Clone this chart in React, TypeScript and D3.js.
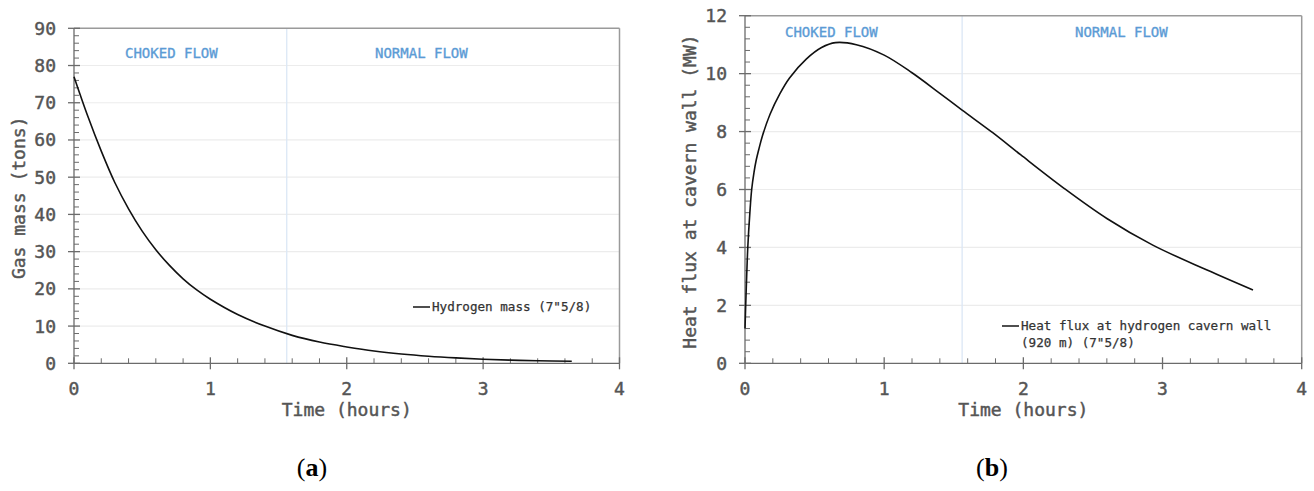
import React from "react";
import * as d3 from "d3";

// ---------- data ----------
const massTime = [0, 0.1, 0.2, 0.3, 0.4, 0.5, 0.6, 0.7, 0.8, 0.9, 1.0, 1.2, 1.4, 1.6, 1.8, 2.0, 2.2, 2.4, 2.6, 2.8, 3.0, 3.2, 3.4, 3.65];
const massValues = [77, 66.5, 57, 48.5, 41.5, 35.5, 30.5, 26.3, 22.7, 19.7, 17.2, 13.1, 10.0, 7.5, 5.7, 4.4, 3.3, 2.5, 1.9, 1.45, 1.1, 0.85, 0.7, 0.55];

const fluxTime = [0, 0.005, 0.012, 0.02, 0.035, 0.048, 0.065, 0.08, 0.1, 0.125, 0.18, 0.25, 0.32, 0.44, 0.55, 0.65, 0.8, 1.0, 1.2, 1.4, 1.56, 1.78, 1.98, 2.29, 2.6, 2.93, 3.32, 3.65];
const fluxValues = [1.2, 2.0, 3.0, 4.0, 5.2, 6.0, 6.6, 7.0, 7.4, 7.85, 8.6, 9.3, 9.85, 10.5, 10.9, 11.07, 11.0, 10.64, 10.03, 9.32, 8.74, 7.96, 7.2, 6.05, 5.0, 4.08, 3.22, 2.53];

const xTicks = [0, 1, 2, 3, 4];
const massTicks = [0, 10, 20, 30, 40, 50, 60, 70, 80, 90];
const fluxTicks = [0, 2, 4, 6, 8, 10, 12];
const regimeSwitch = 1.56;

const mono = "'DejaVu Sans Mono', 'Liberation Mono', monospace";

type PanelProps = {
  left: number; right: number; top: number; bottom: number;
  yMax: number; yTicks: number[]; yMinorStep: number;
  xs: number[]; ys: number[];
  yLabel: string; yLabelX: number;
  legendLines: string[]; legendX: number; legendY: number;
  chokedX: number; normalX: number; flowY: number;
  caption: string; captionX: number;
};

function Panel(p: PanelProps) {
  const x = d3.scaleLinear().domain([0, 4]).range([p.left, p.right]);
  const y = d3.scaleLinear().domain([0, p.yMax]).range([p.bottom, p.top]);
  const line = d3.line<number>().x((_, i) => x(p.xs[i])).y((d) => y(d)).curve(d3.curveCatmullRom.alpha(0.5));
  const xMinor = d3.range(0, 4.0001, 0.2).filter((v) => Math.abs(v - Math.round(v)) > 1e-6);
  const yMinor = d3.range(0, p.yMax + 1e-6, p.yMinorStep).filter((v) => !p.yTicks.some((t) => Math.abs(t - v) < 1e-6));
  const axisColor = "#6b6b6b";
  const textColor = "#555";
  const heavy = { stroke: textColor, strokeWidth: 0.45 };
  return (
    <g>
      {/* grid */}
      {p.yTicks.filter((t) => t > 0 && t < p.yMax).map((t) => (
        <line key={"g" + t} x1={p.left} x2={p.right} y1={y(t)} y2={y(t)} stroke="#ececec" strokeWidth={1.2} />
      ))}
      {/* regime separator */}
      <line x1={x(regimeSwitch)} x2={x(regimeSwitch)} y1={p.top} y2={p.bottom} stroke="#dbe7f5" strokeWidth={1.3} />
      {/* frame top & right */}
      <line x1={p.left} x2={p.right} y1={p.top} y2={p.top} stroke="#9a9a9a" strokeWidth={1.5} />
      <line x1={p.right} x2={p.right} y1={p.top} y2={p.bottom} stroke="#9a9a9a" strokeWidth={1.5} />
      {/* axes */}
      <line x1={p.left} x2={p.right} y1={p.bottom} y2={p.bottom} stroke={axisColor} strokeWidth={1.3} />
      <line x1={p.left} x2={p.left} y1={p.top} y2={p.bottom} stroke={axisColor} strokeWidth={1.3} />
      {xTicks.map((t) => (
        <line key={"xt" + t} x1={x(t)} x2={x(t)} y1={p.bottom - 6} y2={p.bottom + 6} stroke={axisColor} strokeWidth={1.3} />
      ))}
      {xMinor.map((t) => (
        <line key={"xm" + t} x1={x(t)} x2={x(t)} y1={p.bottom - 5} y2={p.bottom} stroke={axisColor} strokeWidth={1} />
      ))}
      {p.yTicks.map((t) => (
        <line key={"yt" + t} x1={p.left - 6} x2={p.left + 6} y1={y(t)} y2={y(t)} stroke={axisColor} strokeWidth={1.3} />
      ))}
      {yMinor.map((t) => (
        <line key={"ym" + t} x1={p.left} x2={p.left + 5} y1={y(t)} y2={y(t)} stroke={axisColor} strokeWidth={1} />
      ))}
      {/* tick labels */}
      {xTicks.map((t) => (
        <text key={"xl" + t} x={x(t)} y={p.bottom + 32} textAnchor="middle" fontFamily={mono} fontSize={18} fill={textColor} {...heavy}>{t}</text>
      ))}
      {p.yTicks.map((t) => (
        <text key={"yl" + t} x={p.left - 18} y={y(t)} dy="0.36em" textAnchor="end" fontFamily={mono} fontSize={18} fill={textColor} {...heavy}>{t}</text>
      ))}
      {/* axis titles */}
      <text x={(p.left + p.right) / 2} y={p.bottom + 53} textAnchor="middle" fontFamily={mono} fontSize={18} fill={textColor} {...heavy}>Time (hours)</text>
      <text transform={`translate(${p.yLabelX},${(p.top + p.bottom) / 2 + 2}) rotate(-90)`} textAnchor="middle" dy="0.35em" fontFamily={mono} fontSize={18} fill={textColor} {...heavy}>{p.yLabel}</text>
      {/* regime labels */}
      <text x={p.chokedX} y={p.flowY} dy="0.35em" fontFamily={mono} fontSize={14} fill="#5b9bd5" stroke="#5b9bd5" strokeWidth={0.35}>CHOKED FLOW</text>
      <text x={p.normalX} y={p.flowY} dy="0.35em" fontFamily={mono} fontSize={14} fill="#5b9bd5" stroke="#5b9bd5" strokeWidth={0.35}>NORMAL FLOW</text>
      {/* curve */}
      <path d={line(p.ys) || ""} fill="none" stroke="#111" strokeWidth={1.6} />
      {/* legend */}
      <line x1={p.legendX} x2={p.legendX + 17} y1={p.legendY} y2={p.legendY} stroke="#222" strokeWidth={1.6} />
      {p.legendLines.map((s, i) => (
        <text key={"lg" + i} x={p.legendX + 19} y={p.legendY + i * 17} dy="0.35em" fontFamily={mono} fontSize={12.6} fill="#333" stroke="#333" strokeWidth={0.25}>{s}</text>
      ))}
      {/* caption */}
      <text x={p.captionX} y={476} textAnchor="middle" fontFamily="'Liberation Serif', 'DejaVu Serif', serif" fontSize={26} fill="#000">
        (<tspan fontWeight="bold">{p.caption}</tspan>)
      </text>
    </g>
  );
}

export default function App() {
  return (
    <svg width={1314} height={491} style={{ position: "absolute", left: 0, top: 0, background: "#fff" }}>
      <Panel
        left={74} right={619.5} top={28.3} bottom={363.3}
        yMax={90} yTicks={massTicks} yMinorStep={2}
        xs={massTime} ys={massValues}
        yLabel="Gas mass (tons)" yLabelX={19}
        legendLines={["Hydrogen mass (7\"5/8)"]} legendX={413} legendY={307}
        chokedX={125} normalX={375} flowY={53}
        caption="a" captionX={312}
      />
      <Panel
        left={745} right={1301.7} top={15.7} bottom={363.3}
        yMax={12} yTicks={fluxTicks} yMinorStep={0.4}
        xs={fluxTime} ys={fluxValues}
        yLabel="Heat flux at cavern wall (MW)" yLabelX={690}
        legendLines={["Heat flux at hydrogen cavern wall", "(920 m) (7\"5/8)"]} legendX={1002} legendY={326}
        chokedX={785} normalX={1075} flowY={32}
        caption="b" captionX={992}
      />
    </svg>
  );
}
